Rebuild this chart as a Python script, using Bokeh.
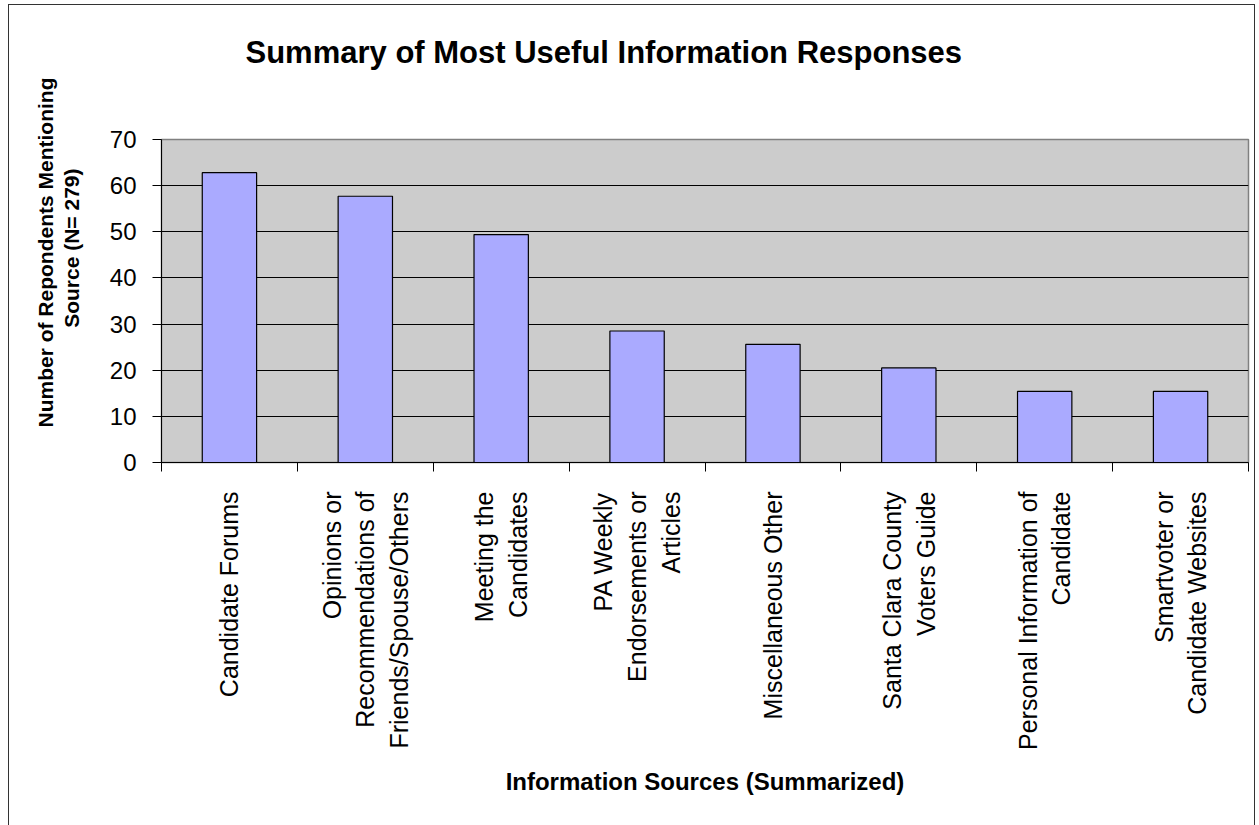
import math
from bokeh.plotting import figure
from bokeh.models import Range1d, FixedTicker, Title
from bokeh.embed import file_html
from bokeh.resources import INLINE

# ---- data ----
categories = [
    "Candidate Forums",
    "Opinions or\nRecommendations of\nFriends/Spouse/Others",
    "Meeting the\nCandidates",
    "PA Weekly\nEndorsements or\nArticles",
    "Miscellaneous Other",
    "Santa Clara County\nVoters Guide",
    "Personal Information of\nCandidate",
    "Smartvoter or\nCandidate Websites",
]
values = [62.8, 57.7, 49.4, 28.5, 25.6, 20.5, 15.4, 15.4]
y_ticks = [0, 10, 20, 30, 40, 50, 60, 70]

title_text = "Summary of Most Useful Information Responses"
y_title_line1 = "Number of Repondents Mentioning"
y_title_line2 = "Source (N= 279)"
x_title = "Information Sources (Summarized)"

FONT = "Liberation Sans"

n = len(categories)
x_centers = [i + 0.5 for i in range(n)]
boundary_ticks = list(range(n + 1))

W, H = 1247, 822
p = figure(
    width=W, height=H,
    output_backend="svg", toolbar_location=None,
    x_range=Range1d(0, n),
    y_range=Range1d(0, 70),
    min_border_left=152, min_border_right=8,
    min_border_top=134, min_border_bottom=365,
)

p.background_fill_color = "#CCCCCC"
p.border_fill_color = "white"
p.outline_line_color = "#808080"
p.outline_line_width = 1.5
p.styles = {"border": "1px solid #333333", "margin-left": "8px", "margin-top": "4px"}

# bars
p.vbar(x=x_centers, top=values, width=0.4, bottom=0,
       fill_color="#AAAAFF", line_color="black", line_width=1.2)

# grid
p.xgrid.visible = False
p.ygrid.ticker = FixedTicker(ticks=y_ticks)
p.ygrid.grid_line_color = "black"
p.ygrid.grid_line_width = 1

# y axis
ya = p.yaxis[0]
ya.ticker = FixedTicker(ticks=y_ticks)
ya.major_tick_out = 9
ya.major_tick_in = 0
ya.minor_tick_line_color = None
ya.axis_line_color = "black"
ya.major_label_standoff = 16
ya.major_label_text_font = FONT
ya.major_label_text_font_size = "24px"
ya.major_label_text_color = "black"

# x axis: labels at category centres, tick marks at category boundaries
xa = p.xaxis[0]
xa.ticker = FixedTicker(ticks=x_centers, minor_ticks=boundary_ticks)
xa.major_label_overrides = {x: c for x, c in zip(x_centers, categories)}
xa.major_tick_out = 0
xa.major_tick_in = 0
xa.minor_tick_out = 9
xa.minor_tick_in = 0
xa.minor_tick_line_color = "black"
xa.axis_line_color = "black"
xa.major_label_orientation = math.pi / 2
xa.major_label_standoff = 20
xa.major_label_text_font = FONT
xa.major_label_text_font_size = "25px"
xa.major_label_text_color = "black"
xa.axis_label = x_title
xa.axis_label_text_font = FONT
xa.axis_label_text_font_size = "24px"
xa.axis_label_text_font_style = "bold"
xa.axis_label_text_color = "black"
xa.axis_label_standoff = 15

# title (trailing empty lines lift it well above the plot area)
t = Title(text=title_text + "\n\n", align="left", offset=84, standoff=0,
          text_font=FONT, text_font_size="31px", text_font_style="bold",
          text_color="black", text_line_height=1.0)
p.add_layout(t, "above")

# y axis title: two lines (closest line first; trailing empty line adds a gap)
t2 = Title(text=y_title_line2 + "\n", align="right", offset=29, standoff=2,
           text_font=FONT, text_font_size="21px", text_font_style="bold",
           text_color="black")
t1 = Title(text=y_title_line1, align="right", offset=-62, standoff=0,
           text_font=FONT, text_font_size="21px", text_font_style="bold",
           text_color="black")
p.add_layout(t2, "left")
p.add_layout(t1, "left")

open("out.html", "w").write(file_html(p, INLINE))
